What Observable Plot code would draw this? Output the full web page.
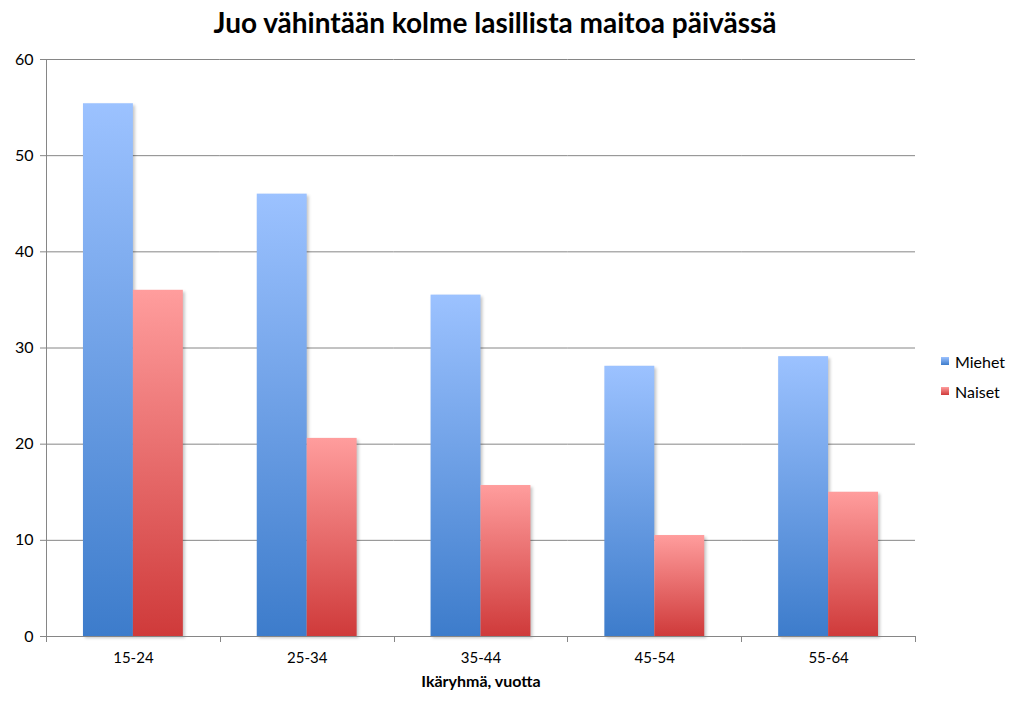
<!DOCTYPE html>
<html><head><meta charset="utf-8">
<script src="https://cdn.jsdelivr.net/npm/d3@7"></script>
<script src="https://cdn.jsdelivr.net/npm/@observablehq/plot@0.6"></script>
<style>
body{margin:0;background:#fff;font-family:Lato, "Open Sans", sans-serif;}
#wrap{position:relative;width:1016px;height:710px;overflow:hidden;}
#title{position:absolute;left:0;width:990px;top:5px;text-align:center;font-weight:bold;font-size:28px;color:#000;}
#chart{position:absolute;left:0;top:45px;}
#legend{position:absolute;left:941px;top:346px;font-size:16px;color:#000;}
#legend .item{display:flex;align-items:center;height:30px;}
#legend .sw{width:8px;height:8px;margin-right:6px;}
g[aria-label="bar"] rect{filter:drop-shadow(2px 2px 1.5px rgba(0,0,0,0.22));}
</style></head><body>
<div id="wrap"><div id="title"></div><div id="chart"></div><div id="legend"></div></div>
<script>
const chartTitle = "Juo vähintään kolme lasillista maitoa päivässä";
const ageGroups = ["15-24", "25-34", "35-44", "45-54", "55-64"];
const series = ["Miehet", "Naiset"];
const miehet = [55.4, 46.0, 35.5, 28.1, 29.1];
const naiset = [36.0, 20.6, 15.7, 10.5, 15.0];
const yTicks = [0, 10, 20, 30, 40, 50, 60];
const xLabel = "Ikäryhmä, vuotta";

const gradients = {
  Miehet: {id: "gM", top: "#9cc2ff", bottom: "#3d7ccb"},
  Naiset: {id: "gN", top: "#ff9d9d", bottom: "#cf3a3a"}
};

const data = [];
ageGroups.forEach((a, i) => {
  data.push({age: a, sex: series[0], value: miehet[i]});
  data.push({age: a, sex: series[1], value: naiset[i]});
});

document.getElementById("title").textContent = chartTitle;

const plot = Plot.plot({
  width: 1016,
  height: 665,
  marginLeft: 46,
  marginRight: 101,
  marginTop: 14,
  marginBottom: 74,
  style: {fontFamily: "Lato, 'Open Sans', sans-serif", fontSize: "15px", color: "#000", background: "#fff"},
  fx: {domain: ageGroups, padding: 0, label: null, round: false},
  x: {domain: series, axis: null, paddingInner: 0, paddingOuter: 0.74, round: false},
  y: {domain: [0, 60], label: null},
  color: {domain: series, range: series.map(s => `url(#${gradients[s].id})`)},
  marks: [
    Plot.gridY(yTicks, {stroke: "#868686", strokeOpacity: 1, strokeWidth: 1}),
    Plot.barY(data, {fx: "age", x: "sex", y: "value", fill: "sex"}),
    Plot.ruleY([0], {stroke: "#868686", strokeWidth: 1}),
    Plot.axisY(yTicks, {tickSize: 6, tickPadding: 7, stroke: "#868686", fontSize: 16, label: null}),
    Plot.axisFx({anchor: "bottom", tickSize: 0, tickPadding: 16, fontSize: 15, label: xLabel, labelAnchor: "center", labelOffset: 50})
  ]
});

document.getElementById("chart").appendChild(plot);

const svg = d3.select(plot);
const defs = svg.insert("defs", ":first-child");
for (const s of series) {
  const g = gradients[s];
  const lg = defs.append("linearGradient").attr("id", g.id).attr("x1", 0).attr("y1", 0).attr("x2", 0).attr("y2", 1);
  lg.append("stop").attr("offset", "0%").attr("stop-color", g.top);
  lg.append("stop").attr("offset", "100%").attr("stop-color", g.bottom);
}

// axis line and band-boundary ticks from the library's scales
const fx = plot.scale("fx"), y = plot.scale("y");
const y0 = y.apply(0), y60 = y.apply(60);
const x0 = fx.range[0], x1 = fx.range[1];
const extra = svg.append("g").attr("stroke", "#868686").attr("stroke-width", 1);
extra.append("line").attr("x1", x0 + 0.5).attr("x2", x0 + 0.5).attr("y1", y60).attr("y2", y0);
const edges = ageGroups.map(a => fx.apply(a)).concat([x1]);
for (const e of edges) {
  extra.append("line").attr("x1", Math.round(e) + 0.5).attr("x2", Math.round(e) + 0.5).attr("y1", y0).attr("y2", y0 + 6);
}
// bold axis label
svg.selectAll("g[aria-label='fx-axis label'] text").attr("font-weight", "bold").style("font-size", "16px");

// legend
const legend = d3.select("#legend");
for (const s of series) {
  const it = legend.append("div").attr("class", "item");
  it.append("div").attr("class", "sw").style("background", `linear-gradient(${gradients[s].top}, ${gradients[s].bottom})`);
  it.append("span").text(s);
}
</script>
</body></html>
